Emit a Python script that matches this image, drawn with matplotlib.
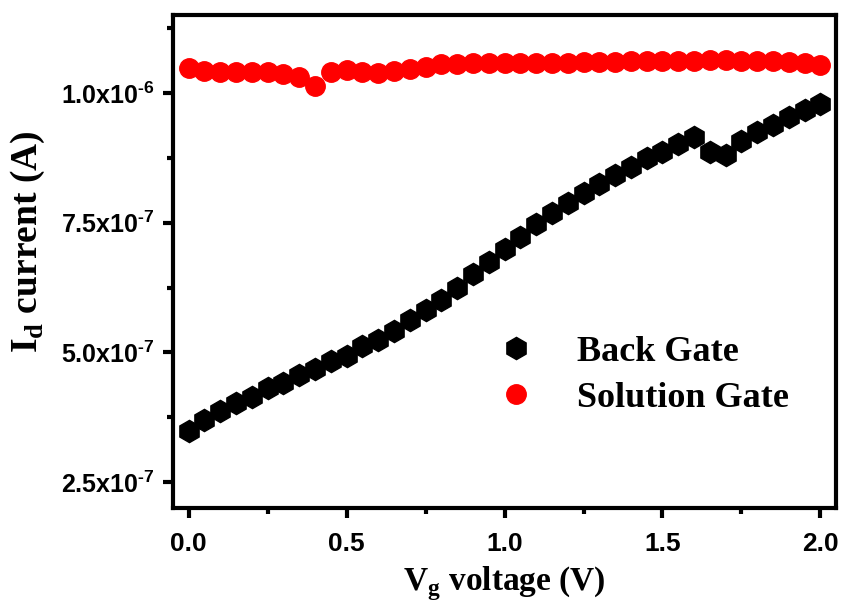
import numpy as np
import matplotlib
matplotlib.use('Agg')
import matplotlib.pyplot as plt
from matplotlib.ticker import FixedLocator, MultipleLocator

plt.rcParams['mathtext.fontset'] = 'custom'
plt.rcParams['mathtext.rm'] = 'Liberation Sans:bold'

# gate voltage (V)
vg = np.round(np.arange(0, 41) * 0.05, 2)

# drain current, back gate (A)
back_gate = np.array([
    0.348, 0.369, 0.387, 0.402, 0.415, 0.431, 0.442, 0.456, 0.469, 0.483,
    0.494, 0.512, 0.525, 0.542, 0.562, 0.581, 0.602, 0.625, 0.652, 0.675,
    0.700, 0.723, 0.748, 0.769, 0.788, 0.808, 0.825, 0.842, 0.858, 0.875,
    0.887, 0.902, 0.915, 0.887, 0.881, 0.908, 0.925, 0.938, 0.954, 0.967,
    0.979]) * 1e-6

# drain current, solution gate (A)
solution_gate = np.array([
    1.048, 1.042, 1.040, 1.040, 1.040, 1.040, 1.037, 1.030, 1.013, 1.040,
    1.045, 1.040, 1.038, 1.042, 1.046, 1.050, 1.055, 1.056, 1.057, 1.058,
    1.057, 1.057, 1.057, 1.058, 1.058, 1.059, 1.060, 1.060, 1.061, 1.061,
    1.061, 1.062, 1.062, 1.063, 1.063, 1.062, 1.062, 1.061, 1.060, 1.058,
    1.054]) * 1e-6

yticks = [2.5e-7, 5.0e-7, 7.5e-7, 1.0e-6]
ytick_labels = [r'2.5x10$^{\text{-7}}$', r'5.0x10$^{\text{-7}}$',
                r'7.5x10$^{\text{-7}}$', r'1.0x10$^{\text{-6}}$']
xticks = [0.0, 0.5, 1.0, 1.5, 2.0]
xtick_labels = ['0.0', '0.5', '1.0', '1.5', '2.0']

serif = ['Liberation Serif', 'DejaVu Serif']
sans = ['Liberation Sans', 'DejaVu Sans']

fig = plt.figure(figsize=(8.43, 6.05), dpi=100)
ax = fig.add_axes([0.205, 0.160, 0.787, 0.815])

ax.plot(vg, back_gate, linestyle='none', marker='h', ms=16, color='black',
        label='Back Gate')
ax.plot(vg, solution_gate, linestyle='none', marker='o', ms=14, color='red',
        label='Solution Gate')

ax.set_xlim(-0.05, 2.05)
ax.set_ylim(2.0e-7, 1.15e-6)

ax.xaxis.set_major_locator(FixedLocator(xticks))
ax.xaxis.set_minor_locator(MultipleLocator(0.25))
ax.yaxis.set_major_locator(FixedLocator(yticks))
ax.yaxis.set_minor_locator(MultipleLocator(1.25e-7))
ax.set_xticklabels(xtick_labels, family=sans, fontweight='bold', fontsize=19)
ax.set_yticklabels(ytick_labels, family=sans, fontweight='bold', fontsize=18)

for s in ax.spines.values():
    s.set_linewidth(3)
ax.tick_params(which='major', direction='out', length=7, width=3, pad=6)
ax.tick_params(which='minor', direction='out', length=4, width=3)
ax.tick_params(axis='x', which='major', pad=10)

ax.set_xlabel(r'V$_{\mathregular{g}}$ voltage (V)', family=serif,
              fontweight='bold', fontsize=24, labelpad=6)
ax.set_ylabel(r'I$_{\mathregular{d}}$ current (A)', family=serif,
              fontweight='bold', fontsize=27)
ax.yaxis.set_label_coords(-0.19, 0.54)

ax.legend(loc='center left', bbox_to_anchor=(0.414, 0.27), frameon=False,
          prop={'family': serif, 'weight': 'bold', 'size': 26},
          handletextpad=0.7, labelspacing=0.36, markerscale=1.0)

fig.savefig('out.png', dpi=100)
